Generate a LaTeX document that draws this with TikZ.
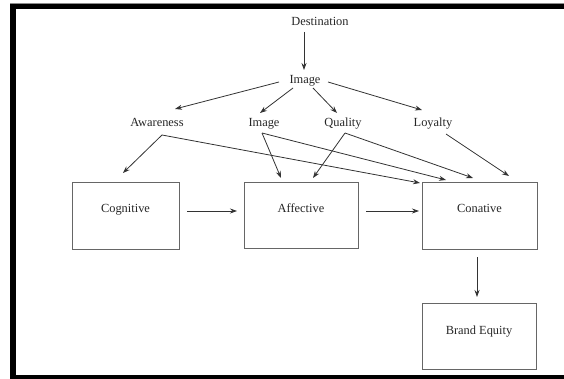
\documentclass[tikz,border=0pt]{standalone}
\usepackage{fontspec}
\setmainfont{Liberation Serif}
\usetikzlibrary{arrows.meta}
\tikzset{
  lbl/.style={inner sep=0pt, font=\fontsize{12.4}{14}\selectfont, text=black!85, anchor=base},
  stage/.style={draw=black!60, line width=0.9pt, inner sep=0pt,
    font=\fontsize{12.4}{14}\selectfont, text=black!85,
    text height=8pt, text depth=13pt},
  link/.style={draw=black!80, line width=0.8pt, -{Stealth[length=7pt,width=5pt]}}
}
\begin{document}
\begin{tikzpicture}[x=1pt,y=-1pt]
  \useasboundingbox (0,0) rectangle (564,379);
  % outer frame (top, left and bottom bars)
  \fill[black] (10,3) rectangle (564,9.3);
  \fill[black] (10,3) rectangle (16,379);
  \fill[black] (10,375) rectangle (564,379);
  \draw[black!45, line width=0.6pt] (10,3) -- (564,3);

  % text labels
  \node[lbl] (dest) at (320,26) {Destination};
  \node[lbl] (img)  at (305,84) {Image};
  \node[lbl] (aw)   at (157,127) {Awareness};
  \node[lbl] (im2)  at (264,127) {Image};
  \node[lbl] (qu)   at (343,127) {Quality};
  \node[lbl] (lo)   at (433,127) {Loyalty};

  % stage boxes
  \node[stage, minimum width=107pt, minimum height=67pt] (cog) at (125.5,215.5) {Cognitive};
  \node[stage, minimum width=114pt, minimum height=66pt] (aff) at (301,215) {Affective};
  \node[stage, minimum width=115pt, minimum height=67pt] (con) at (479.5,215.5) {Conative};
  \node[stage, minimum width=114pt, minimum height=66pt, text depth=12pt] (be) at (479,336) {Brand Equity};

  % connector end points
  \coordinate (destS) at (304,32);
  \coordinate (imgN)  at (304,70);
  \coordinate (imgW)  at (279,82);
  \coordinate (imgSW) at (293,88);
  \coordinate (imgSE) at (313,88);
  \coordinate (imgE)  at (328,82);
  \coordinate (awT)   at (175,109);
  \coordinate (im2T)  at (260,113);
  \coordinate (quT)   at (337,113);
  \coordinate (loT)   at (422,110);
  \coordinate (awS)   at (162,135);
  \coordinate (im2S)  at (262,133);
  \coordinate (quS)   at (345,133);
  \coordinate (loS)   at (446,134);
  \coordinate (cogT)  at (123,173);
  \coordinate (affTa) at (281,178);
  \coordinate (affTb) at (313,178);
  \coordinate (conTa) at (420,183);
  \coordinate (conTb) at (446,180);
  \coordinate (conTc) at (473,178);
  \coordinate (conTd) at (509,176);
  \coordinate (cogR)  at (187,211);
  \coordinate (affL)  at (237,211);
  \coordinate (affR)  at (366,211);
  \coordinate (conL)  at (419,211);
  \coordinate (conB)  at (477,257);
  \coordinate (beT)   at (477,297);

  % connectors
  \draw[link] (destS) -- (imgN);
  \draw[link] (imgW) -- (awT);
  \draw[link] (imgSW) -- (im2T);
  \draw[link] (imgSE) -- (quT);
  \draw[link] (imgE) -- (loT);
  \draw[link] (awS) -- (cogT);
  \draw[link] (awS) -- (conTa);
  \draw[link] (im2S) -- (affTa);
  \draw[link] (im2S) -- (conTb);
  \draw[link] (quS) -- (affTb);
  \draw[link] (quS) -- (conTc);
  \draw[link] (loS) -- (conTd);
  \draw[link] (cogR) -- (affL);
  \draw[link] (affR) -- (conL);
  \draw[link] (conB) -- (beT);
\end{tikzpicture}
\end{document}
